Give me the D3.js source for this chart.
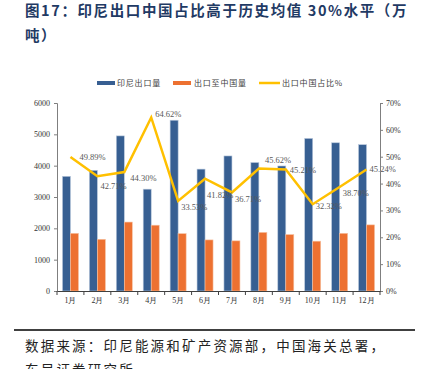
<!DOCTYPE html>
<html><head><meta charset="utf-8">
<script src="https://cdn.jsdelivr.net/npm/d3@7/dist/d3.min.js"></script>
<style>
html,body{margin:0;padding:0;background:#fff;}
svg{display:block;}
</style></head>
<body>
<svg id="c" width="423" height="369"></svg>
<script>
const months = ["1月","2月","3月","4月","5月","6月","7月","8月","9月","10月","11月","12月"];
const exportTotal = [3660,3850,4950,3250,5450,3890,4310,4100,3990,4870,4730,4670];
const exportChina = [1840,1650,2200,2100,1830,1630,1600,1870,1800,1590,1840,2110];
const chinaShare = [49.89,42.71,44.30,64.62,33.53,41.82,36.71,45.62,45.21,32.32,38.70,45.24];
const leftTicks = [0,1000,2000,3000,4000,5000,6000];
const rightTicks = [0,10,20,30,40,50,60,70];
const seriesNames = ["印尼出口量","出口至中国量","出口中国占比%"];
// label nudges (layout only)
const labelNudge = [[9,0],[3,10],[6,6],[4,-3],[3,6],[2,16],[3,7],[6,-8],[4,0],[3,2],[3,6],[3,0]];

const svg = d3.select("#c");
const L = 57, R = 380, T = 103, B = 291;
const serif = "'Liberation Serif','Times New Roman',serif";
const cjk = "'Noto Sans CJK SC',sans-serif";

// title
svg.append("text").attr("x",25).attr("y",16).attr("font-family",cjk).attr("font-weight","bold")
  .attr("font-size",14.5).attr("fill","#1f3a64").attr("letter-spacing",1.6)
  .text("图17：印尼出口中国占比高于历史均值 30%水平（万");
svg.append("text").attr("x",25).attr("y",41).attr("font-family",cjk).attr("font-weight","bold")
  .attr("font-size",14.5).attr("fill","#1f3a64").attr("letter-spacing",1.6)
  .text("吨）");

const x = d3.scaleBand().domain(months).range([L,R]).paddingInner(0).paddingOuter(0);
const yL = d3.scaleLinear().domain([0,6000]).range([B,T]);
const yR = d3.scaleLinear().domain([0,70]).range([B,T]);
const bw = 8;

// bars
svg.append("g").selectAll("rect").data(months).join("rect")
  .attr("x",(d)=>x(d)+x.bandwidth()/2-bw).attr("width",bw)
  .attr("y",(d,i)=>yL(exportTotal[i])).attr("height",(d,i)=>B-yL(exportTotal[i]))
  .attr("fill","#375f92").attr("stroke","#b9c8dc").attr("stroke-width",0.6);
svg.append("g").selectAll("rect").data(months).join("rect")
  .attr("x",(d)=>x(d)+x.bandwidth()/2).attr("width",bw)
  .attr("y",(d,i)=>yL(exportChina[i])).attr("height",(d,i)=>B-yL(exportChina[i]))
  .attr("fill","#ed7131").attr("stroke","#f6c1a1").attr("stroke-width",0.6);

// line
const line = d3.line().x((d,i)=>x(months[i])+x.bandwidth()/2).y(d=>yR(d));
svg.append("path").datum(chinaShare).attr("d",line).attr("fill","none")
  .attr("stroke","#ffc000").attr("stroke-width",2.5).attr("stroke-linejoin","miter");

// line labels
svg.append("g").selectAll("text").data(chinaShare).join("text")
  .attr("x",(d,i)=>x(months[i])+x.bandwidth()/2+labelNudge[i][0])
  .attr("y",(d,i)=>yR(d)+labelNudge[i][1])
  .attr("dy","0.35em").attr("font-family",serif).attr("font-size",8.5).attr("fill","#595959")
  .text(d=>d.toFixed(2)+"%");

// axes
const axL = d3.axisLeft(yL).tickValues(leftTicks).tickSize(3).tickPadding(4).tickFormat(d3.format("d"));
const gL = svg.append("g").attr("transform",`translate(${L},0)`).call(axL);
const axR = d3.axisRight(yR).tickValues(rightTicks).tickSize(3).tickPadding(3).tickFormat(d=>d+"%");
const gR = svg.append("g").attr("transform",`translate(${R},0)`).call(axR);
const axB = d3.axisBottom(x).tickSize(0).tickPadding(6);
const gB = svg.append("g").attr("transform",`translate(0,${B})`).call(axB);
[gL,gR,gB].forEach(g=>{
  g.selectAll("text").attr("font-family",serif).attr("font-size",8).attr("fill","#333");
  g.select(".domain").attr("stroke","#7f7f7f").attr("stroke-width",1);
  g.selectAll(".tick line").attr("stroke","#7f7f7f");
});
gB.select(".domain").attr("stroke","#404040");
// category boundary ticks
svg.append("g").selectAll("line").data(months.concat(["end"])).join("line")
  .attr("x1",(d,i)=>L+i*x.step()).attr("x2",(d,i)=>L+i*x.step())
  .attr("y1",B).attr("y2",B+4).attr("stroke","#404040");

// legend
const lg = svg.append("g").attr("font-family",cjk).attr("font-size",8).attr("fill","#404040");
const lx = [97,173,259];
lg.append("rect").attr("x",lx[0]).attr("y",81).attr("width",18).attr("height",4).attr("fill","#375f92");
lg.append("rect").attr("x",lx[1]).attr("y",81).attr("width",18).attr("height",4).attr("fill","#ed7131");
lg.append("line").attr("x1",lx[2]).attr("x2",lx[2]+21).attr("y1",83).attr("y2",83).attr("stroke","#ffc000").attr("stroke-width",2.5);
[[lx[0]+20,seriesNames[0]],[lx[1]+21,seriesNames[1]],[lx[2]+23,seriesNames[2]]].forEach(([px,t])=>{
  lg.append("text").attr("x",px).attr("y",83).attr("dy","0.35em").attr("letter-spacing",0.8).attr("fill","#404040").text(t);
});

// footer
svg.append("line").attr("x1",14).attr("x2",415).attr("y1",330).attr("y2",330).attr("stroke","#000").attr("stroke-width",1.3);
svg.append("text").attr("x",25).attr("y",351).attr("font-family",cjk).attr("font-size",13.5)
  .attr("fill","#222").attr("letter-spacing",2.2).text("数据来源：印尼能源和矿产资源部，中国海关总署，");
svg.append("text").attr("x",25).attr("y",375).attr("font-family",cjk).attr("font-size",13.5)
  .attr("fill","#222").attr("letter-spacing",2.2).text("东吴证券研究所");
</script>
</body></html>
